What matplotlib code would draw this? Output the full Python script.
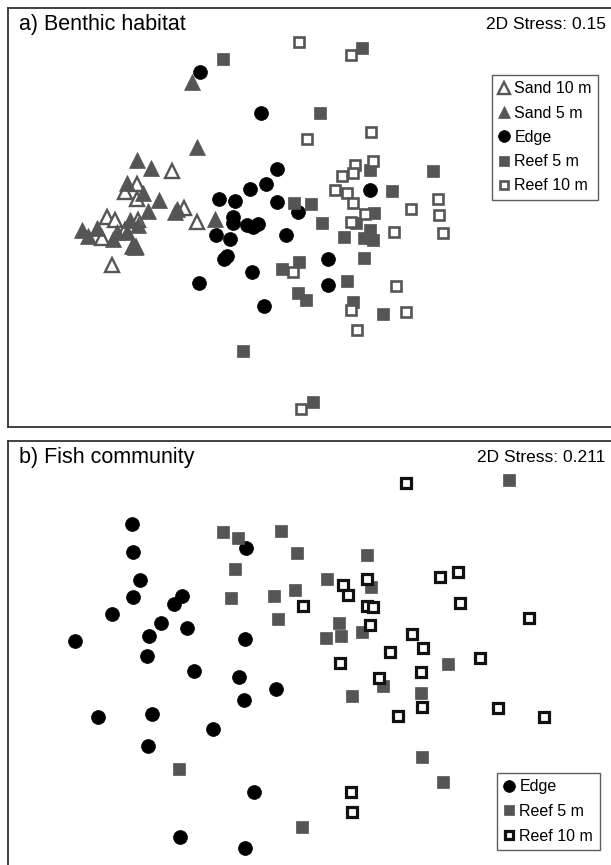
import numpy as np
import matplotlib.pyplot as plt

plt.rcParams['font.family'] = ['Liberation Sans', 'DejaVu Sans']

GREY = '#555555'

# nMDS ordination coordinates (arbitrary units, y grows downward)
# a) Benthic habitat
a_sand10_x = [172, 137, 125, 137, 184, 197, 107, 115, 138, 102, 112, 136, 125]
a_sand10_y = [171, 184, 192, 199, 208, 222, 217, 220, 220, 238, 265, 247, 230]

a_sand5_x = [192, 197, 137, 151, 127, 143, 159, 148, 175, 177, 215, 130, 138, 97, 82, 88, 117, 127, 113, 132, 135]
a_sand5_y = [82, 147, 160, 168, 183, 193, 200, 211, 212, 209, 219, 220, 225, 228, 230, 236, 232, 232, 239, 246, 247]

a_edge_x = [200, 261, 277, 266, 250, 219, 235, 277, 298, 233, 233, 247, 253, 258, 216, 230, 286, 227, 224, 252, 199,
            264, 370, 328, 328]
a_edge_y = [72, 113, 169, 184, 189, 199, 201, 202, 212, 217, 223, 225, 227, 224, 235, 239, 235, 256, 259, 272, 283,
            306, 190, 259, 285]

a_reef5_x = [223, 243, 294, 362, 320, 433, 370, 392, 311, 374, 322, 356, 344, 370, 373, 364, 364, 347, 353, 383,
             282, 299, 298, 306, 313]
a_reef5_y = [59, 351, 203, 48, 113, 171, 170, 191, 204, 213, 223, 223, 237, 230, 240, 238, 258, 281, 302, 314,
             269, 262, 293, 300, 402]

a_reef10_x = [299, 351, 371, 307, 373, 355, 342, 353, 335, 347, 353, 365, 351, 438, 411, 439, 443, 394, 293, 396,
              406, 351, 357, 301]
a_reef10_y = [42, 55, 132, 139, 161, 165, 176, 173, 190, 193, 203, 214, 222, 199, 209, 215, 233, 232, 272, 286,
              312, 310, 330, 409]

# b) Fish community
b_edge_x = [132, 133, 140, 133, 182, 174, 112, 161, 187, 149, 75, 245, 147, 246, 194, 239, 276, 244, 98, 152, 213,
            148, 254, 180, 245]
b_edge_y = [524, 552, 580, 597, 596, 604, 614, 623, 628, 636, 641, 639, 656, 548, 671, 677, 689, 700, 717, 714, 729,
            746, 792, 837, 848]

b_reef5_x = [223, 238, 281, 297, 235, 231, 274, 295, 278, 179, 302, 509, 367, 327, 371, 339, 326, 341, 362, 448,
             383, 352, 421, 422, 443]
b_reef5_y = [532, 538, 531, 553, 569, 598, 596, 590, 619, 769, 827, 480, 555, 579, 587, 623, 638, 636, 632, 664,
             686, 696, 693, 757, 782]

b_reef10_x = [406, 440, 458, 460, 529, 367, 343, 348, 367, 373, 303, 370, 412, 423, 390, 480, 340, 421, 379, 422,
              398, 498, 544, 351, 352]
b_reef10_y = [483, 577, 572, 603, 618, 579, 585, 595, 606, 607, 606, 625, 634, 648, 652, 658, 663, 672, 678, 707,
              716, 708, 717, 792, 812]

W, H = 611, 865
fig = plt.figure(figsize=(W / 100, H / 100), dpi=100)


def px_axes(x0, y0, x1, y1):
    return fig.add_axes([x0 / W, 1 - y1 / H, (x1 - x0) / W, (y1 - y0) / H])


ax_a = px_axes(8, 8, 613, 427)
ax_b = px_axes(8, 441, 613, 868)

styles = {
    'Sand 10 m': dict(marker='^', mfc='white', mec=GREY, mew=1.7, ms=10.5),
    'Sand 5 m': dict(marker='^', mfc=GREY, mec=GREY, mew=0.5, ms=11),
    'Edge': dict(marker='o', mfc='black', mec='black', mew=0.5, ms=10),
    'Reef 5 m': dict(marker='s', mfc=GREY, mec=GREY, mew=0.5, ms=8.8),
    'Reef 10 m': dict(marker='s', mfc='white', mec=GREY, mew=1.9, ms=7.4),
}
styles_b = dict(styles)
styles_b['Reef 10 m'] = dict(marker='s', mfc='white', mec='#111111', mew=2.3, ms=7.4)

groups_a = [('Sand 10 m', a_sand10_x, a_sand10_y), ('Sand 5 m', a_sand5_x, a_sand5_y),
            ('Edge', a_edge_x, a_edge_y), ('Reef 5 m', a_reef5_x, a_reef5_y),
            ('Reef 10 m', a_reef10_x, a_reef10_y)]
groups_b = [('Edge', b_edge_x, b_edge_y), ('Reef 5 m', b_reef5_x, b_reef5_y),
            ('Reef 10 m', b_reef10_x, b_reef10_y)]

for ax, groups, st, ylim in [(ax_a, groups_a, styles, (427, 8)), (ax_b, groups_b, styles_b, (868, 441))]:
    for name, xs, ys in groups:
        ax.plot(xs, ys, ls='none', label=name, **st[name])
    ax.set_xlim(8, 613)
    ax.set_ylim(*ylim)
    ax.set_xticks([])
    ax.set_yticks([])
    for sp in ax.spines.values():
        sp.set_color('#333333')
        sp.set_linewidth(1.3)

ax_a.text(0.018, 0.96, 'a) Benthic habitat', transform=ax_a.transAxes, fontsize=15.5, va='center', ha='left')
ax_a.text(0.988, 0.96, '2D Stress: 0.15', transform=ax_a.transAxes, fontsize=12.5, va='center', ha='right')
ax_b.text(0.018, 0.962, 'b) Fish community', transform=ax_b.transAxes, fontsize=15.5, va='center', ha='left')
ax_b.text(0.988, 0.962, '2D Stress: 0.211', transform=ax_b.transAxes, fontsize=12.5, va='center', ha='right')

leg_kw = dict(fontsize=11.5, frameon=True, fancybox=False, handlelength=0.7, handletextpad=0.3,
              borderpad=0.4, borderaxespad=0, numpoints=1, markerscale=0.85)
leg_a = ax_a.legend(loc='upper left', bbox_to_anchor=((492 - 8) / 605, 1 - (75 - 8) / 419),
                    labelspacing=0.58, **leg_kw)
leg_b = ax_b.legend(loc='upper left', bbox_to_anchor=((497 - 8) / 605, 1 - (773 - 441) / 427),
                    labelspacing=0.6, **leg_kw)
for leg in (leg_a, leg_b):
    leg.get_frame().set_edgecolor('#333333')
    leg.get_frame().set_linewidth(1.0)

fig.savefig('out.png', dpi=100)
